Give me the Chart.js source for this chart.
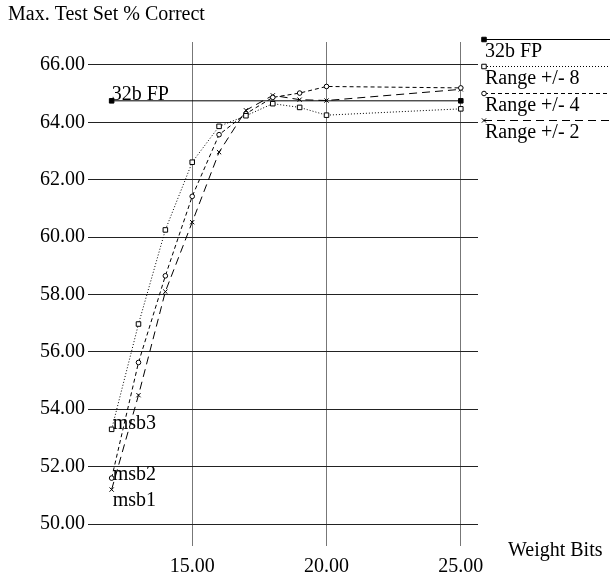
<!DOCTYPE html>
<html><head><meta charset="utf-8">
<script src="https://cdn.jsdelivr.net/npm/chart.js@4/dist/chart.umd.min.js"></script>
<style>html,body{margin:0;padding:0;background:#fff}#wrap{width:610px;height:577px;position:relative}</style>
</head><body><div id="wrap"><canvas id="c" width="610" height="577"></canvas></div>
<script>
const weightBits = [12, 13, 14, 15, 16, 17, 18, 19, 20, 25];
const fpBits = [12, 25];
const fp32 = [64.75, 64.75];
const range8 = [53.3, 56.97, 60.25, 62.61, 63.86, 64.23, 64.65, 64.52, 64.25, 64.47];
const range4 = [51.6, 55.63, 58.65, 61.42, 63.57, 64.3, 64.87, 65.02, 65.25, 65.2];
const range2 = [51.2, 54.49, 58.1, 60.52, 62.96, 64.42, 64.94, 64.79, 64.76, 65.15];
const seriesNames = ['32b FP', 'Range +/- 8', 'Range +/- 4', 'Range +/- 2'];
const curveTags = ['32b FP', 'msb3', 'msb2', 'msb1'];
const xTicks = [15, 20, 25];
const yTicks = [50, 52, 54, 56, 58, 60, 62, 64, 66];
const yTitle = 'Max. Test Set % Correct';
const xTitle = 'Weight Bits';

const FONT = "'Liberation Serif', 'Times New Roman', serif";
Chart.defaults.font.family = FONT;
Chart.defaults.font.size = 20;
Chart.defaults.color = '#000';

const pts = (xs, ys) => xs.map((x, i) => ({x, y: ys[i]}));
const styles = [
  {dash: [], pointStyle: 'rect', radius: 3.2, bg: '#000'},
  {dash: [1, 2], pointStyle: 'rect', radius: 3.2, bg: '#fff'},
  {dash: [4, 3], pointStyle: 'circle', radius: 2.3, bg: '#fff'},
  {dash: [8, 5], pointStyle: 'crossRot', radius: 3, bg: '#fff'}
];
const seriesData = [pts(fpBits, fp32), pts(weightBits, range8), pts(weightBits, range4), pts(weightBits, range2)];
const datasets = seriesData.map((d, i) => ({
  label: seriesNames[i],
  data: d,
  borderColor: '#000',
  borderWidth: 1,
  borderDash: styles[i].dash,
  tension: 0,
  fill: false,
  pointStyle: styles[i].pointStyle,
  pointRadius: styles[i].radius,
  pointBackgroundColor: styles[i].bg,
  pointBorderColor: '#000',
  pointBorderWidth: 1
}));

const tagOffsets = [[0, -1], [1, 0], [1, 2], [1, 16]];

const annot = {
  id: 'annot',
  afterDatasetsDraw(chart) {
    const ctx = chart.ctx;
    const xs = chart.scales.x, ys = chart.scales.y;
    ctx.save();
    ctx.fillStyle = '#000';
    ctx.strokeStyle = '#000';
    ctx.font = '20px ' + FONT;
    ctx.textBaseline = 'alphabetic';
    ctx.textAlign = 'left';
    ctx.fillText(yTitle, 8, 20);
    ctx.fillText(xTitle, 508, 556);
    chart.data.datasets.forEach((ds, i) => {
      const p = ds.data[0];
      const px = xs.getPixelForValue(p.x), py = ys.getPixelForValue(p.y);
      ctx.fillText(curveTags[i], px + tagOffsets[i][0], py + tagOffsets[i][1]);
    });
    chart.data.datasets.forEach((ds, i) => {
      const ly = 39.5 + i * 27;
      ctx.save();
      ctx.lineWidth = 1;
      ctx.setLineDash(ds.borderDash);
      ctx.beginPath();
      ctx.moveTo(484, ly);
      ctx.lineTo(610, ly);
      ctx.stroke();
      ctx.setLineDash([]);
      ctx.fillStyle = ds.pointBackgroundColor;
      ctx.strokeStyle = '#000';
      ctx.lineWidth = 1;
      Chart.helpers.drawPoint(ctx, {pointStyle: ds.pointStyle, radius: ds.pointRadius, rotation: 0, borderWidth: 1}, 484, ly);
      ctx.restore();
      ctx.fillText(ds.label, 485, ly + 17);
    });
    ctx.restore();
  }
};

new Chart(document.getElementById('c'), {
  type: 'line',
  data: {datasets},
  options: {
    responsive: false,
    animation: false,
    layout: {padding: {left: 0, right: 132, top: 42, bottom: 0}},
    plugins: {legend: {display: false}, tooltip: {enabled: false}},
    scales: {
      x: {
        type: 'linear', min: 11.12, max: 25.64,
        afterBuildTicks: s => { s.ticks = xTicks.map(v => ({value: v})); },
        afterFit: s => { s.height = 53; },
        grid: {color: '#777', lineWidth: 1, tickLength: 22},
        border: {display: false},
        ticks: {padding: 9, maxRotation: 0, autoSkip: false, callback: v => Number(v).toFixed(2), color: '#000', font: {size: 20}}
      },
      y: {
        type: 'linear', min: 50, max: 66.8,
        afterBuildTicks: s => { s.ticks = yTicks.map(v => ({value: v})); },
        afterFit: s => { s.width = 88; },
        grid: {color: '#222', lineWidth: 1, drawTicks: false},
        border: {display: false},
        ticks: {padding: 3, autoSkip: false, callback: v => Number(v).toFixed(2), color: '#000', font: {size: 20}}
      }
    }
  },
  plugins: [annot]
});
</script>
</body></html>
